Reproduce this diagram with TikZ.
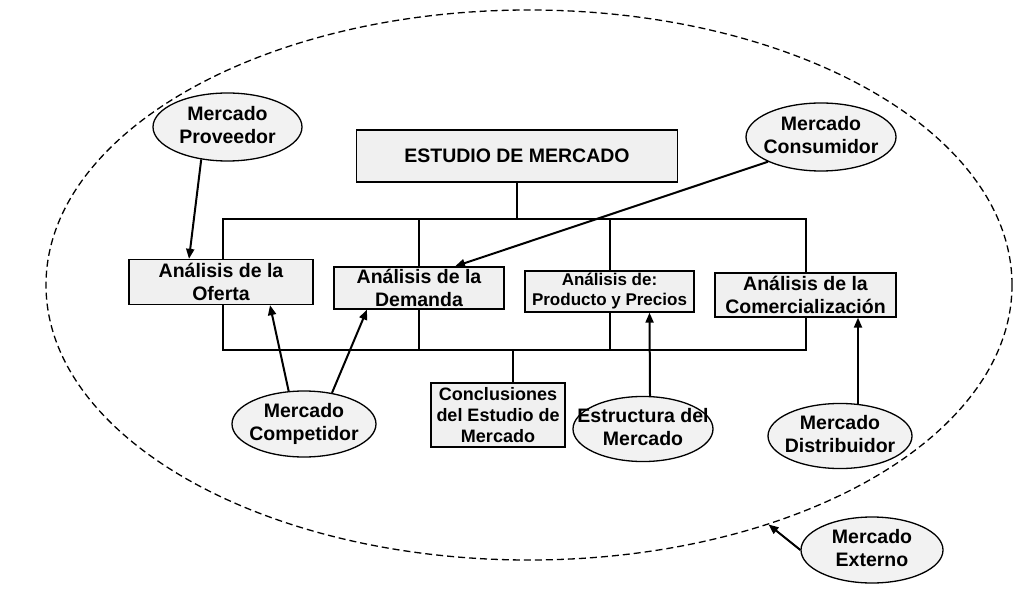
\documentclass[tikz,border=0pt]{standalone}
\usepackage{fontspec}
\setmainfont{Liberation Sans}
\usetikzlibrary{arrows.meta,calc,shapes.geometric}
\newcommand{\mktxt}[1]{\makebox[0pt]{\begin{tabular}{@{}c@{}}#1\end{tabular}}}
\begin{document}
\begin{tikzpicture}[x=1pt,y=-1pt,
  lbl/.style={font=\bfseries\fontsize{19.5}{23}\selectfont},
  boxnode/.style={rectangle,draw=black,line width=1.3pt,fill=black!6,inner sep=0pt,align=center,lbl},
  oval/.style={ellipse,draw=black,line width=1.3pt,fill=black!5,inner sep=0pt,lbl},
  conn/.style={line width=2pt,draw=black,line join=miter},
  arr/.style={conn,-{Triangle[length=10pt,width=8pt]}},
  outer/.style={ellipse,draw=black,line width=1.3pt,dash pattern=on 7pt off 4pt,inner sep=0pt},
]
\useasboundingbox (0,0) rectangle (1024,601);
\fill[white] (0,0) rectangle (1024,601);

% outer dashed ellipse (Mercado Externo boundary)
\node[outer,minimum width=966pt,minimum height=550pt] (mercado) at (529,285) {};

% boxes
\node[boxnode,minimum width=321pt,minimum height=52pt] (estudio) at (517,156) {ESTUDIO DE MERCADO};
\node[boxnode,minimum width=184pt,minimum height=45pt] (oferta) at (221,282) {Análisis de la\\Oferta};
\node[boxnode,minimum width=170pt,minimum height=42pt] (demanda) at (419,288) {Análisis de la\\Demanda};
\node[boxnode,minimum width=169pt,minimum height=41pt,font=\bfseries\fontsize{17}{20}\selectfont] (producto) at (609.5,291.5) {Análisis de:\\Producto y Precios};
\node[boxnode,minimum width=181pt,minimum height=44pt] (comercial) at (805.5,295) {Análisis de la\\Comercialización};
\node[boxnode,minimum width=134pt,minimum height=64pt,font=\bfseries\fontsize{18}{21}\selectfont] (conclusiones) at (498,415) {Conclusiones\\del Estudio de\\Mercado};

% ellipses
\node[oval,minimum width=149pt,minimum height=68pt] (proveedor) at (227.5,127) {\mktxt{Mercado\\Proveedor}};
\node[oval,minimum width=150pt,minimum height=68pt] (consumidor) at (821,137) {\mktxt{Mercado\\Consumidor}};
\node[oval,minimum width=144pt,minimum height=66pt] (competidor) at (304,424) {\mktxt{Mercado\\Competidor}};
\node[oval,minimum width=140pt,minimum height=64pt] (estructura) at (643,429) {\mktxt{Estructura del\\Mercado}};
\node[oval,minimum width=144pt,minimum height=64pt] (distribuidor) at (840,436) {\mktxt{Mercado\\Distribuidor}};
\node[oval,minimum width=142pt,minimum height=66pt] (externo) at (872,550) {\mktxt{Mercado\\Externo}};

% frame
\coordinate (tl) at (223,219);
\coordinate (tr) at (806,219);
\coordinate (bl) at (223,350);
\coordinate (br) at (806,350);
\coordinate (cj) at (513,350);

\draw[conn] (tl |- oferta.north) -- (tl) -- (tr) -- (tr |- comercial.north);
\draw[conn] (tl |- oferta.south) -- (bl) -- (br) -- (tr |- comercial.south);
\draw[conn] (estudio.south) -- (estudio.south |- tl);
\draw[conn] (demanda.north |- tl) -- (demanda.north);
\draw[conn] (demanda.south) -- (demanda.south |- bl);
\draw[conn] (producto.north |- tl) -- (producto.north);
\draw[conn] (producto.south) -- (producto.south |- bl);
\draw[conn] (cj) -- (cj |- conclusiones.north);

% arrows
\draw[arr] (proveedor.-129) -- ($(oferta.north)+(-32,0)$);
\draw[arr] (consumidor.-155) -- ($(demanda.north)+(36,0)$);
\draw[arr] (competidor.115) -- ($(oferta.south)+(49,0)$);
\draw[arr] (competidor.48) -- ($(demanda.south)+(-52,0)$);
\draw[arr] ($(estructura.north)+(7,0)$) -- ($(producto.south)+(40,0)$);
\draw[arr] ($(distribuidor.north)+(18,1)$) -- ($(comercial.south)+(52.5,0)$);
\draw[arr] (externo.west) -- (mercado.-45);
\end{tikzpicture}
\end{document}
